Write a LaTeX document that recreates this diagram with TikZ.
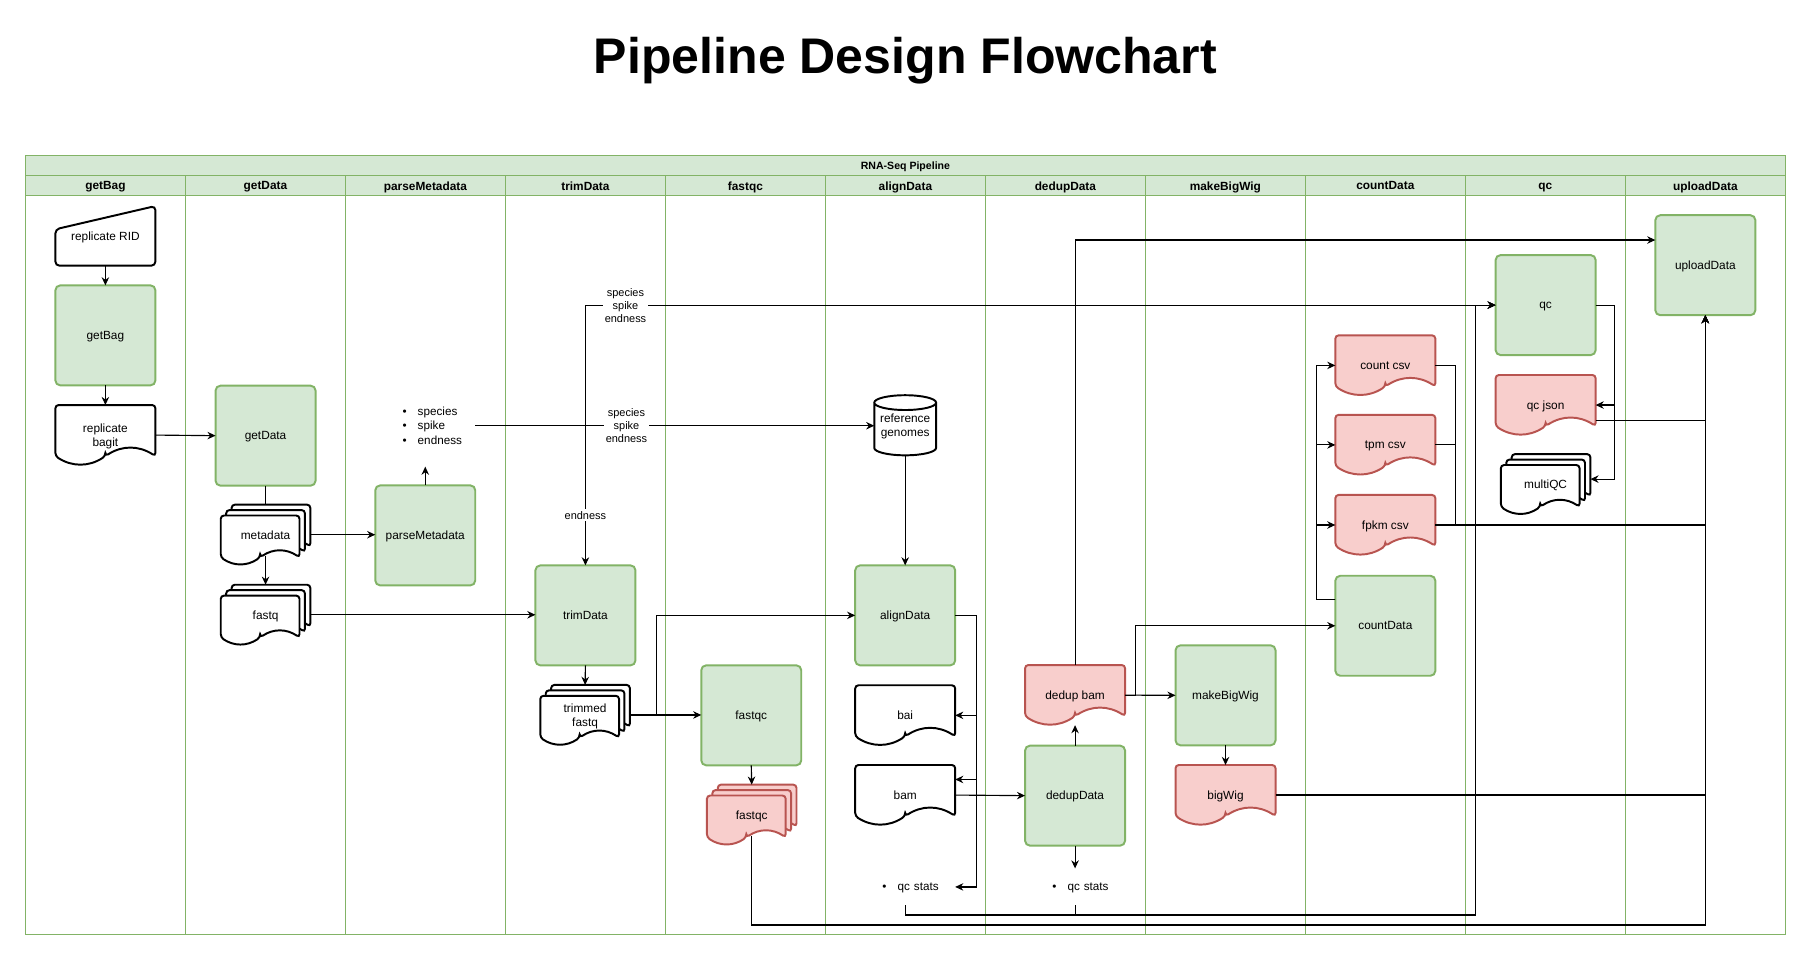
\documentclass[tikz,border=0pt]{standalone}
\usepackage{fontspec}
\setmainfont{Liberation Sans}
\usetikzlibrary{arrows.meta,calc}

\definecolor{lanefill}{HTML}{D5E8D4}
\definecolor{laneline}{HTML}{82B366}
\definecolor{docfill}{HTML}{F8CECC}
\definecolor{docline}{HTML}{B85450}

\newcommand{\boxfont}{\fontsize{7.3}{8.6}\selectfont}
\newcommand{\lblfont}{\fontsize{6.75}{8}\selectfont}
\newcommand{\listfont}{\fontsize{7.2}{8.75}\selectfont}
\newcommand{\itm}[1]{\hspace*{0.59cm}\textbullet\hspace{0.24cm}#1}

% page with a wavy bottom; docstack = three pages
\makeatletter
\newdimen\dsx \newdimen\dsy \newdimen\dsw \newdimen\dsh
\newdimen\mdoff \mdoff=3.34pt
\def\mdfill{white}\def\mddraw{black}
\def\dpt#1#2{\pgfqpoint{\dimexpr\dsx+#1\dsw\relax}{\dimexpr\dsy+#2\dsh\relax}}
\def\getbox{\southwest\dsx=\pgf@x\relax\dsy=\pgf@y\relax
  \northeast\dsw=\pgf@x\relax\advance\dsw by-\dsx\relax
  \dsh=\pgf@y\relax\advance\dsh by-\dsy\relax}
\def\pagepath{%
  \pgfpathmoveto{\dpt{0.5}{0.15}}%
  \pgfpathcurveto{\dpt{0.3333}{-0.03}}{\dpt{0.1667}{-0.03}}{\dpt{0}{0.15}}%
  \pgfpathlineto{\dpt{0}{1}}%
  \pgfpathlineto{\dpt{1}{1}}%
  \pgfpathlineto{\dpt{1}{0.15}}%
  \pgfpathcurveto{\dpt{0.8333}{0.33}}{\dpt{0.6667}{0.33}}{\dpt{0.5}{0.15}}%
  \pgfpathclose}
\pgfdeclareshape{docpage}{
  \inheritsavedanchors[from=rectangle]
  \inheritanchorborder[from=rectangle]
  \inheritanchor[from=rectangle]{center}
  \inheritanchor[from=rectangle]{north}
  \inheritanchor[from=rectangle]{south}
  \inheritanchor[from=rectangle]{east}
  \inheritanchor[from=rectangle]{west}
  \inheritanchor[from=rectangle]{north east}
  \inheritanchor[from=rectangle]{north west}
  \inheritanchor[from=rectangle]{south east}
  \inheritanchor[from=rectangle]{south west}
  \backgroundpath{\getbox\pagepath}
}
\pgfdeclareshape{docstack}{
  \inheritsavedanchors[from=rectangle]
  \inheritanchorborder[from=rectangle]
  \inheritanchor[from=rectangle]{center}
  \inheritanchor[from=rectangle]{north}
  \inheritanchor[from=rectangle]{south}
  \inheritanchor[from=rectangle]{east}
  \inheritanchor[from=rectangle]{west}
  \inheritanchor[from=rectangle]{north east}
  \inheritanchor[from=rectangle]{north west}
  \inheritanchor[from=rectangle]{south east}
  \inheritanchor[from=rectangle]{south west}
  \behindbackgroundpath{%
    \getbox\advance\dsw by-2\mdoff\advance\dsh by-2\mdoff
    \pgfsetfillcolor{\mdfill}\pgfsetstrokecolor{\mddraw}%
    \advance\dsx by2\mdoff\advance\dsy by2\mdoff
    \pagepath\pgfusepath{fill,stroke}%
    \advance\dsx by-\mdoff\advance\dsy by-\mdoff
    \pagepath\pgfusepath{fill,stroke}%
  }
  \backgroundpath{\getbox\advance\dsw by-2\mdoff\advance\dsh by-2\mdoff\pagepath}
}
\makeatother

\tikzset{
  lane/.style={draw=laneline, line width=0.6pt},
  band/.style={fill=lanefill, draw=laneline, line width=0.6pt},
  lanehead/.style={font=\fontsize{7.3}{8.6}\selectfont\bfseries, text depth=0pt},
  proc/.style={rectangle, rounded corners=3pt, draw=laneline, fill=lanefill, line width=1.2pt,
    minimum width=2.1625cm, minimum height=2.1625cm, inner sep=1pt, outer sep=0pt,
    font=\boxfont, text depth=0pt},
  doc/.style={shape=docpage, draw=black, fill=white, line width=1.2pt, rounded corners=2pt,
    minimum width=2.1625cm, minimum height=1.3cm, inner sep=1pt, outer sep=0pt,
    align=center, font=\boxfont, text depth=0pt},
  stack/.style={doc, shape=docstack, minimum width=1.9375cm},
  redpage/.style={draw=docline, fill=docfill, /utils/exec={\def\mdfill{docfill}\def\mddraw{docline}}},
  shapebox/.style={rectangle, inner sep=0pt, outer sep=0pt, align=center, font=\boxfont,
    minimum width=2.1625cm, minimum height=1.29cm, text depth=0pt},
  outline/.style={line width=1.2pt},
  bullets/.style={inner sep=0pt, outer sep=0pt, text width=2.1625cm, align=left, font=\listfont},
  lbl/.style={fill=white, inner sep=1pt, align=center, font=\lblfont},
  flow/.style={line width=0.7pt},
}

\begin{document}
\begin{tikzpicture}[x=0.025cm, y=-0.025cm, >={Stealth[length=5pt,width=4.6pt]}]

  \fill[white] (0,0) rectangle (1568,831.6);
  \node[anchor=base, font=\fontsize{30.8}{36}\selectfont\bfseries] (title) at (783.5,63.5) {Pipeline Design Flowchart};

  % swimlanes
  \draw[band] (22,134.4) rectangle (1545,169);
  \draw[lane] (22,151.7) -- (1545,151.7);
  \draw[lane] (22,134.4) rectangle (1545,809);
  \foreach \x in {1,...,10}
    \draw[lane] ({22+138.45*\x},151.7) -- ({22+138.45*\x},809);
  \node[font=\fontsize{6.5}{7.5}\selectfont\bfseries, text depth=0pt] (pipeline) at (783.5,143.6) {RNA-Seq Pipeline};
  \foreach \lname [count=\i from 0] in {getBag,getData,parseMetadata,trimData,fastqc,alignData,dedupData,makeBigWig,countData,qc,uploadData}
    \node[lanehead] (head\i) at ({22+138.45*(\i+0.5)},160.8) {\lname};

  % getBag
  \node[shapebox] (rid) at (91.2,204.1) {replicate RID};
  \node[proc] (getBagP) at (91.2,290.2) {getBag};
  \node[doc] (bagit) at (91.2,376.5) {replicate\\bagit};
  % getData
  \node[proc] (getDataP) at (229.8,377) {getData};
  \node[stack] (metadata) at (229.8,462.7) {metadata};
  \node[stack] (fastq) at (229.8,532) {fastq};
  % parseMetadata
  \node[proc] (parseP) at (368,463.3) {parseMetadata};
  \node[bullets, minimum height=1.77cm] (meta) at (368,368.4) {\itm{species}\\\itm{spike}\\\itm{endness}};
  % trimData
  \node[proc] (trimP) at (506.6,532.5) {trimData};
  \node[stack] (trimmed) at (506.3,618.7) {trimmed\\fastq};
  % fastqc
  \node[proc] (fastqcP) at (650.1,619) {fastqc};
  \node[stack, redpage] (fastqcdoc) at (650.5,705) {fastqc};
  % alignData
  \node[shapebox, minimum width=1.3375cm, minimum height=1.3cm] (refgen) at (783.3,368) {reference\\genomes};
  \node[proc] (alignP) at (783.3,532.5) {alignData};
  \node[doc] (bai) at (783.3,619) {bai};
  \node[doc] (bam) at (783.3,688) {bam};
  \node[bullets, minimum height=0.8cm, text depth=0pt] (qcstatsA) at (783.3,767.5) {\itm{qc stats}};
  % dedupData
  \node[doc, redpage] (dedupbam) at (930.3,601.5) {dedup bam};
  \node[proc] (dedupP) at (930.3,688.5) {dedupData};
  \node[bullets, minimum height=0.8cm, text depth=0pt] (qcstatsB) at (930.3,767.5) {\itm{qc stats}};
  % makeBigWig
  \node[proc] (bigwigP) at (1060.5,601.7) {makeBigWig};
  \node[doc, redpage] (bigwig) at (1060.5,688) {bigWig};
  % countData
  \node[doc, redpage] (countcsv) at (1198.8,316.2) {count csv};
  \node[doc, redpage] (tpmcsv) at (1198.8,385) {tpm csv};
  \node[doc, redpage] (fpkmcsv) at (1198.8,454.3) {fpkm csv};
  \node[proc] (countP) at (1198.8,541.5) {countData};
  % qc
  \node[proc] (qcP) at (1337.5,264) {qc};
  \node[doc, redpage] (qcjson) at (1337.5,350.5) {qc json};
  \node[stack] (multiqc) at (1337.5,419) {multiQC};
  % uploadData
  \node[proc] (uploadP) at (1475.7,229.5) {uploadData};

  \coordinate (qcbus) at (1277,791.8);
  \coordinate (uplbus) at (1475.7,800.4);

  % manual input and database outlines
  \draw[outline, rounded corners=2.5pt] (rid.south west) -- ($(rid.north west)!0.39!(rid.south west)$)
    -- (rid.north east) -- (rid.south east) -- cycle;
  \draw[outline] ([yshift=-0.16cm]refgen.north west) -- ([yshift=0.16cm]refgen.south west)
    arc[start angle=180, end angle=360, x radius=0.66875cm, y radius=0.16cm]
    -- ([yshift=-0.16cm]refgen.north east)
    arc[start angle=0, end angle=180, x radius=0.66875cm, y radius=0.16cm]
    arc[start angle=180, end angle=360, x radius=0.66875cm, y radius=0.16cm];

  % connectors
  \draw[flow, ->] (rid.south) -- (getBagP.north);
  \draw[flow, ->] (getBagP.south) -- (bagit.north);
  \draw[flow, ->] (bagit.east) -- (getDataP.west);
  \draw[flow] (getDataP.south) -- (metadata.north);
  \draw[flow, ->] ([yshift=0.18cm]metadata.south) -- (fastq.north);
  \draw[flow, ->] (metadata.east) -- (metadata.east -| parseP.west);
  \draw[flow, ->] (fastq.east) -- (fastq.east -| trimP.west);
  \draw[flow, ->] (parseP.north) -- (meta.south);
  \draw[flow, ->] (meta.east) -- node[lbl, pos=0.379] (lblref) {species\\spike\\endness} (meta.east -| refgen.west);
  \draw[flow, ->] (meta.east) -- (meta.east -| trimP.north) |- node[lbl, pos=0.522] (lblqc) {species\\spike\\endness} (qcP.west);
  \draw[flow, ->] (meta.east) -| node[lbl, pos=0.82] (lbltrim) {endness} (trimP.north);
  \draw[flow, ->] (refgen.south) -- (alignP.north);
  \draw[flow, ->] (trimP.south) -- (trimmed.north);
  \draw[flow, ->] (trimmed.east) -- (trimmed.east -| fastqcP.west);
  \draw[flow, ->] (trimmed.east) -- ++(23.1,0) |- (alignP.west);
  \draw[flow, ->] (fastqcP.south) -- (fastqcdoc.north);
  \draw[flow, ->] (alignP.east) -- ++(18.5,0) |- (bai.east);
  \draw[flow, ->] (alignP.east) -- ++(18.5,0) |- ([yshift=0.3375cm]bam.east);
  \draw[flow, ->] (alignP.east) -- ++(18.5,0) |- (qcstatsA.east);
  \draw[flow, ->] (bam.east) -- (dedupP.west);
  \draw[flow, ->] (dedupP.north) -- (dedupbam.south);
  \draw[flow, ->] (dedupP.south) -- (qcstatsB.north);
  \draw[flow, ->] (dedupbam.north) |- ([yshift=0.545cm]uploadP.west);
  \draw[flow, ->] (dedupbam.east) -- (bigwigP.west);
  \draw[flow, ->] (dedupbam.east) -- ++(9.1,0) |- (countP.west);
  \draw[flow, ->] (bigwigP.south) -- (bigwig.north);
  \draw[flow, ->] (bigwig.east) -| (uploadP.south);
  \foreach \csv in {countcsv,tpmcsv,fpkmcsv}{
    \draw[flow, ->] ([yshift=0.5625cm]countP.west) -- ++(-16.4,0) |- (\csv.west);
    \draw[flow, ->] (\csv.east) -- ++(17.4,0) |- (uploadP.south |- fpkmcsv.east) -- (uploadP.south);
  }
  \draw[flow, ->] ([yshift=-0.325cm]qcjson.east) -| (uploadP.south);
  \draw[flow, ->] ([yshift=0.18cm]fastqcdoc.south) |- (uplbus) -- (uploadP.south);
  \draw[flow, ->] (qcstatsA.south) |- (qcbus) |- (qcP.west);
  \draw[flow, ->] (qcstatsB.south) |- (qcbus) |- (qcP.west);
  \draw[flow, ->] (qcP.east) -- ++(16.2,0) |- (qcjson.east);
  \draw[flow, ->] (qcP.east) -- ++(16.2,0) |- ([yshift=0.11cm]multiqc.east);

\end{tikzpicture}
\end{document}
